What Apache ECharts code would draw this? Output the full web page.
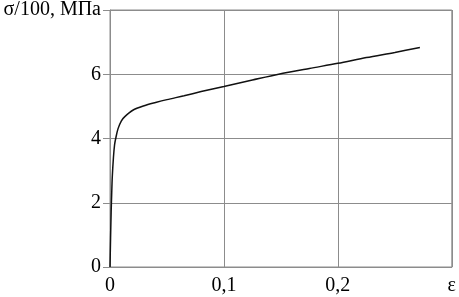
<!DOCTYPE html>
<html>
<head>
<meta charset="utf-8">
<script src="https://cdn.jsdelivr.net/npm/echarts@6/dist/echarts.min.js"></script>
<style>
html,body{margin:0;padding:0;background:#fff;}
#chart{width:459px;height:297px;}
</style>
</head>
<body>
<div id="chart"></div>
<script>
// Strain values (ε)
var strain = [0, 0.0005, 0.001, 0.0015, 0.002, 0.003, 0.004, 0.005, 0.007, 0.010, 0.013, 0.020, 0.030, 0.040, 0.050, 0.065, 0.080, 0.100, 0.125, 0.148, 0.175, 0.200, 0.225, 0.250, 0.272];
// Stress values (σ/100, MPa)
var stress = [0, 0.9, 1.7, 2.3, 2.8, 3.4, 3.8, 4.0, 4.3, 4.55, 4.68, 4.88, 5.02, 5.12, 5.21, 5.33, 5.46, 5.62, 5.82, 6.00, 6.18, 6.34, 6.52, 6.68, 6.83];
// Tick labels
var xTickValues = [0, 0.1, 0.2, 0.3];
var xTickLabels = ["0", "0,1", "0,2", "ε"];
var yTickValues = [0, 2, 4, 6, 8];
var yTickLabels = ["0", "2", "4", "6", "σ/100, МПа"];

var data = strain.map(function (x, i) { return [x, stress[i]]; });

function labelFor(values, labels) {
  return function (v) {
    for (var i = 0; i < values.length; i++) {
      if (Math.abs(values[i] - v) < 1e-9) return labels[i];
    }
    return '';
  };
}

var font = '"Liberation Serif", "DejaVu Serif", serif';
var gridColor = '#8c8c8c';

var chart = echarts.init(document.getElementById('chart'), null, {renderer: 'canvas'});
chart.setOption({
  animation: false,
  backgroundColor: '#ffffff',
  grid: {left: 110, right: 6, top: 7, bottom: 30, containLabel: false,
         show: true, borderColor: gridColor, borderWidth: 1},
  xAxis: {
    type: 'value', min: 0, max: 0.3, interval: 0.1,
    axisLine: {show: true, lineStyle: {color: gridColor, width: 1}},
    axisTick: {show: false},
    splitLine: {show: true, lineStyle: {color: gridColor, width: 1}},
    axisLabel: {formatter: labelFor(xTickValues, xTickLabels), color: '#000',
                fontFamily: font, fontSize: 20, margin: 9, showMaxLabel: true, showMinLabel: true}
  },
  yAxis: {
    type: 'value', min: 0, max: 8, interval: 2,
    axisLine: {show: true, lineStyle: {color: gridColor, width: 1}},
    axisTick: {show: true, inside: false, length: 7, lineStyle: {color: gridColor}},
    splitLine: {show: true, lineStyle: {color: gridColor, width: 1}},
    axisLabel: {formatter: labelFor(yTickValues, yTickLabels), color: '#000',
                fontFamily: font, fontSize: 20, margin: 9, showMaxLabel: true, showMinLabel: true}
  },
  series: [{
    type: 'line', data: data, showSymbol: false, smooth: 0.3,
    lineStyle: {color: '#111', width: 1.5}
  }]
});
</script>
</body>
</html>
